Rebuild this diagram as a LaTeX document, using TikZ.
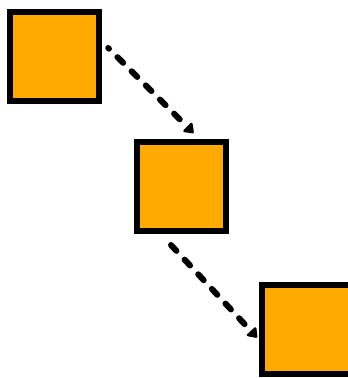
\documentclass[tikz,border=0pt]{standalone}
\usetikzlibrary{arrows.meta,calc}
\definecolor{boxorange}{HTML}{FFAA00}
\begin{document}
\begin{tikzpicture}[x=1pt,y=-1pt,
  sq/.style={draw=black,fill=boxorange,line width=6pt,minimum width=89pt,minimum height=89pt,inner sep=0pt,outer sep=0pt},
  flow/.style={line width=6pt,line cap=round,dash pattern=on 8pt off 12pt,dash phase=7pt,-{Triangle[length=10pt,width=14pt,round]}}]
\clip (0,0) rectangle (348,378);
\useasboundingbox (0,0) rectangle (348,378);
\node[sq] (a) at (54.75,56.75) {};
\node[sq] (b) at (181.5,186.5) {};
\node[sq] (c) at (306.5,329.5) {};
\coordinate (s1) at ($(a.east)+(9,-8.75)$);
\coordinate (e1) at ($(b.north)+(12,-9)$);
\coordinate (s2) at ($(b.south)+(-10.5,14)$);
\coordinate (e2) at ($(c.west)+(-5,8)$);
\draw[flow] (s1) -- (e1);
\draw[flow,dash phase=0pt] (s2) -- (e2);
\end{tikzpicture}
\end{document}
